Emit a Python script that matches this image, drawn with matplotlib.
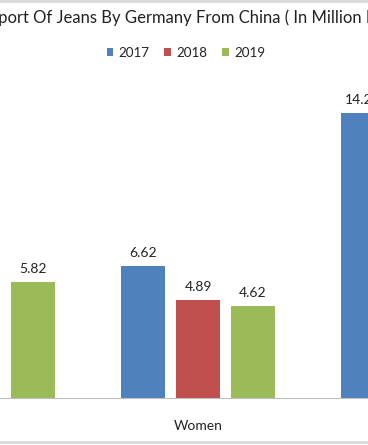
import matplotlib.pyplot as plt
from matplotlib.lines import Line2D
import numpy as np

plt.rcParams['font.family'] = ['Lato', 'DejaVu Sans']

# Datos (millones de piezas)
categorias = ['Men', 'Women', 'Kids']
anios = ['2017', '2018', '2019']
v2017 = [6.10, 6.62, 14.27]
v2018 = [5.40, 4.89, 12.10]
v2019 = [5.82, 4.62, 11.80]
colores = ['#4F81BD', '#C0504D', '#9BBB59']

W, H = 368, 445
fig = plt.figure(figsize=(W / 100, H / 100), dpi=100)

# el grafico original esta recortado: los ejes se salen de la figura
base_px = 398
ax = fig.add_axes([0, (H - base_px) / H, 1, 320 / H])
x = np.arange(len(categorias))
ancho = 0.2
paso = 0.25
for i, (vals, col) in enumerate(zip([v2017, v2018, v2019], colores)):
    pos = x + (i - 1) * paso
    bars = ax.bar(pos, vals, ancho, color=col, label=anios[i], zorder=2)
    for b, v in zip(bars, vals):
        ax.text(b.get_x() + b.get_width() / 2, v + 0.35, '%.2f' % v,
                ha='center', va='bottom', fontsize=10, color='#222222')

ax.set_xticks(x)
ax.set_xticklabels(categorias, fontsize=10, color='#222222')
ax.set_ylim(0, 16)
ax.set_xlim(1 - 198 / 220, 1 + 170 / 220)
ax.tick_params(axis='x', length=0, pad=16)
ax.set_yticks([])
for s in ['top', 'left', 'right']:
    ax.spines[s].set_visible(False)
ax.spines['bottom'].set_color('#BFBFBF')
ax.set_facecolor('none')

fig.text(201 / W, 1 - 18 / H, 'Import Of Jeans By Germany From China ( In Million Pieces )',
         ha='center', va='center', fontsize=12.0, color='#222222')

fig.legend(loc='center', bbox_to_anchor=(186 / W, 1 - 53 / H), ncol=3, frameon=False,
           fontsize=9.6, handlelength=0.5, handleheight=0.5, handletextpad=0.4,
           columnspacing=1.1, labelcolor='#222222')

# borde del area del grafico
fig.add_artist(Line2D([0, 1], [1 - 1 / H, 1 - 1 / H], color='#D9D9D9', lw=2))
fig.add_artist(Line2D([0, 1], [3 / H, 3 / H], color='#D9D9D9', lw=2))

fig.savefig('out.png', dpi=100)
